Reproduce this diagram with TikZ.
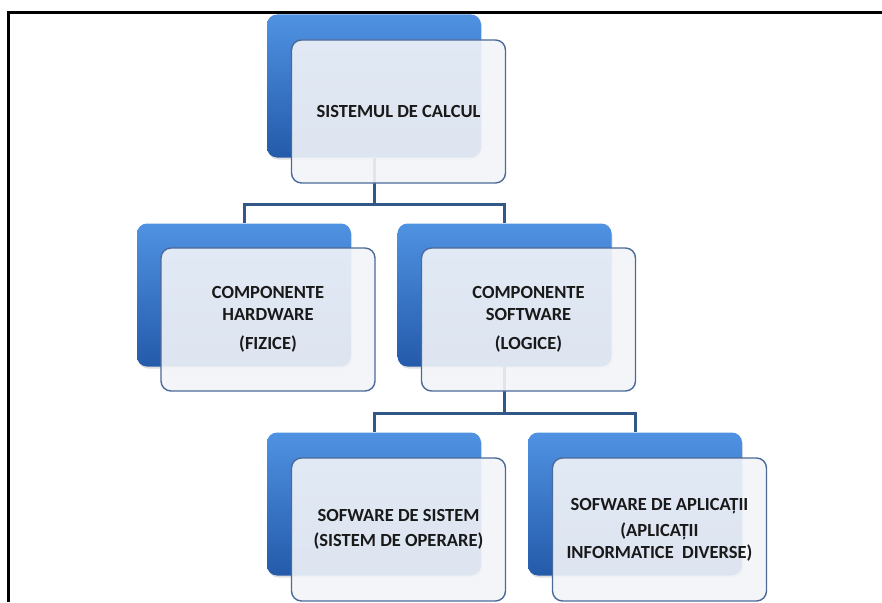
\documentclass[tikz,border=0pt]{standalone}
\usepackage{fontspec}
\setmainfont{Carlito}
\usetikzlibrary{shadows}
\definecolor{blueTop}{RGB}{80,146,226}
\definecolor{blueMid}{RGB}{56,122,212}
\definecolor{blueBot}{RGB}{36,90,170}
\definecolor{frontFill}{RGB}{242,244,248}
\definecolor{frontEdge}{RGB}{76,106,152}
\definecolor{connCol}{RGB}{50,88,136}
\begin{document}
\begin{tikzpicture}[x=1pt,y=-1pt,
  backbox/.style={rectangle, rounded corners=10pt, minimum width=214pt, minimum height=143pt, inner sep=0pt,
    top color=blueTop, middle color=blueMid, bottom color=blueBot, draw=none,
    drop shadow={opacity=0.25, shadow xshift=1pt, shadow yshift=-2pt}},
  frontbox/.style={rectangle, rounded corners=10pt, minimum width=214pt, minimum height=143pt, inner sep=0pt,
    fill=frontFill, fill opacity=0.9, text opacity=1, draw=frontEdge, line width=1.4pt,
    align=center, font=\bfseries\fontsize{18.5}{22}\selectfont, text=black!90},
  conn/.style={draw=connCol, line width=3pt},
  frame/.style={draw=black, line width=3pt}]
\useasboundingbox (0,0) rectangle (882,602);
\coordinate (fa) at (8,602);
\coordinate (fb) at (8,13);
\coordinate (fc) at (882,13);
\draw[frame] (fa) -- (fb) -- (fc);

% back boxes
\node[backbox] (b1) at (374,86) {};
\node[backbox] (b2) at (244,295) {};
\node[backbox] (b3) at (504.5,295) {};
\node[backbox] (b4) at (374,504) {};
\node[backbox] (b5) at (635,504) {};

% connectors
\coordinate (j1) at (374,204);
\coordinate (j2) at (504.5,413);
\draw[conn] (b1.south) -- (j1);
\draw[conn] (b2.north) |- (j1) -| (b3.north);
\draw[conn] (b3.south) -- (j2);
\draw[conn] (b4.north) |- (j2) -| (b5.north);

% front boxes
\node[frontbox] (f1) at (398.5,111.5) {SISTEMUL DE CALCUL};
\node[frontbox] (f2) at (268,319.5) {COMPONENTE\\HARDWARE\\[7pt](FIZICE)};
\node[frontbox] (f3) at (528.5,319.5) {COMPONENTE\\SOFTWARE\\[7pt](LOGICE)};
\node[frontbox] (f4) at (398.5,529.5) {SOFWARE DE SISTEM\\[3pt](SISTEM DE OPERARE)};
\node[frontbox] (f5) at (659.5,529.5) {SOFWARE DE APLICAȚII\\[4pt](APLICAȚII\\INFORMATICE\ \ DIVERSE)};
\end{tikzpicture}
\end{document}
